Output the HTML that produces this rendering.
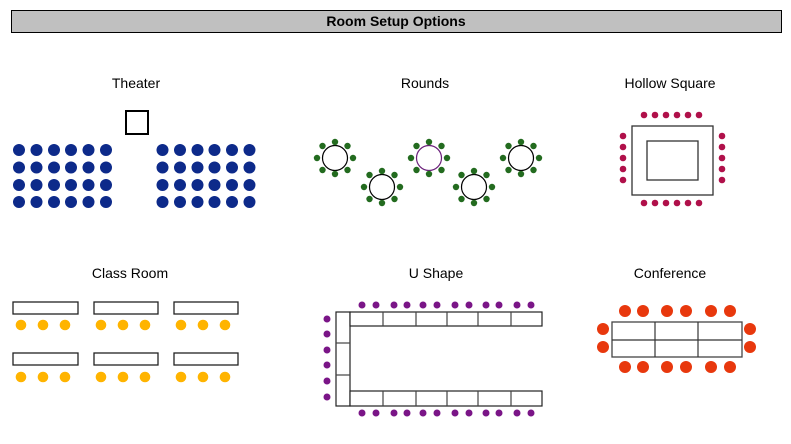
<!DOCTYPE html>
<html><head><meta charset="utf-8"><style>
body{margin:0;background:#fff;width:791px;height:439px;overflow:hidden}
text{font-family:"Liberation Sans",sans-serif;font-size:14px;fill:#000}
</style></head><body>
<svg width="791" height="439" xmlns="http://www.w3.org/2000/svg">
<rect x="11.5" y="10.5" width="770" height="22" fill="#c0c0c0" stroke="#000"/>
<text x="396" y="26" text-anchor="middle" font-weight="bold" style="font-size:14px">Room Setup Options</text>
<text x="136" y="88" text-anchor="middle">Theater</text>
<text x="425" y="88" text-anchor="middle">Rounds</text>
<text x="670" y="88" text-anchor="middle">Hollow Square</text>
<text x="130" y="278" text-anchor="middle">Class Room</text>
<text x="436" y="278" text-anchor="middle">U Shape</text>
<text x="670" y="278" text-anchor="middle">Conference</text>

<!-- Theater -->
<rect x="126" y="111" width="22" height="23" fill="#fff" stroke="#000" stroke-width="2"/>
<g fill="#0d2a8a">
<g id="trow"><circle cx="19" cy="150" r="6"/><circle cx="36.5" cy="150" r="6"/><circle cx="54" cy="150" r="6"/><circle cx="71" cy="150" r="6"/><circle cx="88.5" cy="150" r="6"/><circle cx="106" cy="150" r="6"/></g>
<use href="#trow" y="17.5"/><use href="#trow" y="35"/><use href="#trow" y="52"/>
<use href="#trow" x="143.5"/><use href="#trow" x="143.5" y="17.5"/><use href="#trow" x="143.5" y="35"/><use href="#trow" x="143.5" y="52"/>
</g>

<!-- Rounds -->
<defs>
<g id="chairs" fill="#236b1f"><circle cx="0" cy="-16" r="3.2"/><circle cx="0" cy="16" r="3.2"/><circle cx="-18" cy="0" r="3.2"/><circle cx="18" cy="0" r="3.2"/><circle cx="-12.5" cy="-12" r="3.2"/><circle cx="12.5" cy="-12" r="3.2"/><circle cx="-12.5" cy="12" r="3.2"/><circle cx="12.5" cy="12" r="3.2"/></g>
</defs>
<g fill="#fff" stroke="#000" stroke-width="1.2">
<circle cx="335" cy="158" r="12.5"/><circle cx="382" cy="187" r="12.5"/><circle cx="429" cy="158" r="12.5" stroke="#6a1f7a"/><circle cx="474" cy="187" r="12.5"/><circle cx="521" cy="158" r="12.5"/>
</g>
<use href="#chairs" x="335" y="158"/><use href="#chairs" x="382" y="187"/><use href="#chairs" x="429" y="158"/><use href="#chairs" x="474" y="187"/><use href="#chairs" x="521" y="158"/>

<!-- Hollow square -->
<rect x="632" y="126" width="81" height="69" fill="#fff" stroke="#333" stroke-width="1.3"/>
<rect x="647" y="141" width="51" height="39" fill="#fff" stroke="#333" stroke-width="1.3"/>
<g fill="#b0104a">
<g id="hrow"><circle cx="644" cy="115" r="3.3"/><circle cx="655" cy="115" r="3.3"/><circle cx="666" cy="115" r="3.3"/><circle cx="677" cy="115" r="3.3"/><circle cx="688" cy="115" r="3.3"/><circle cx="699" cy="115" r="3.3"/></g>
<use href="#hrow" y="88"/>
<g id="hcol"><circle cx="623" cy="136" r="3.3"/><circle cx="623" cy="147" r="3.3"/><circle cx="623" cy="158" r="3.3"/><circle cx="623" cy="169" r="3.3"/><circle cx="623" cy="180" r="3.3"/></g>
<use href="#hcol" x="99"/>
</g>

<!-- Class room -->
<g fill="#fff" stroke="#222" stroke-width="1.3">
<rect x="13" y="302" width="65" height="12"/><rect x="94" y="302" width="64" height="12"/><rect x="174" y="302" width="64" height="12"/>
<rect x="13" y="353" width="65" height="12"/><rect x="94" y="353" width="64" height="12"/><rect x="174" y="353" width="64" height="12"/>
</g>
<g fill="#ffb400">
<g id="crow"><circle cx="21" cy="325" r="5.3"/><circle cx="43" cy="325" r="5.3"/><circle cx="65" cy="325" r="5.3"/><circle cx="101" cy="325" r="5.3"/><circle cx="123" cy="325" r="5.3"/><circle cx="145" cy="325" r="5.3"/><circle cx="181" cy="325" r="5.3"/><circle cx="203" cy="325" r="5.3"/><circle cx="225" cy="325" r="5.3"/></g>
<use href="#crow" y="52"/>
</g>

<!-- U shape -->
<g fill="#fff" stroke="#222" stroke-width="1.2">
<rect x="336" y="312" width="14" height="94"/>
<rect x="350" y="312" width="192" height="14"/>
<rect x="350" y="391" width="192" height="15"/>
</g>
<g stroke="#444" stroke-width="1.2">
<line x1="336" y1="343" x2="350" y2="343"/><line x1="336" y1="375" x2="350" y2="375"/>
<line x1="383" y1="312" x2="383" y2="326"/><line x1="416" y1="312" x2="416" y2="326"/><line x1="447" y1="312" x2="447" y2="326"/><line x1="478" y1="312" x2="478" y2="326"/><line x1="511" y1="312" x2="511" y2="326"/>
<line x1="383" y1="391" x2="383" y2="406"/><line x1="416" y1="391" x2="416" y2="406"/><line x1="447" y1="391" x2="447" y2="406"/><line x1="478" y1="391" x2="478" y2="406"/><line x1="511" y1="391" x2="511" y2="406"/>
</g>
<g fill="#7a1587">
<g id="urow"><circle cx="362" cy="305" r="3.5"/><circle cx="376" cy="305" r="3.5"/><circle cx="394" cy="305" r="3.5"/><circle cx="407" cy="305" r="3.5"/><circle cx="423" cy="305" r="3.5"/><circle cx="437" cy="305" r="3.5"/><circle cx="455" cy="305" r="3.5"/><circle cx="469" cy="305" r="3.5"/><circle cx="486" cy="305" r="3.5"/><circle cx="499" cy="305" r="3.5"/><circle cx="517" cy="305" r="3.5"/><circle cx="531" cy="305" r="3.5"/></g>
<use href="#urow" y="108"/>
<circle cx="327" cy="319" r="3.5"/><circle cx="327" cy="334" r="3.5"/><circle cx="327" cy="350" r="3.5"/><circle cx="327" cy="365" r="3.5"/><circle cx="327" cy="381" r="3.5"/><circle cx="327" cy="397" r="3.5"/>
</g>

<!-- Conference -->
<rect x="612" y="322" width="130" height="35" fill="#fff" stroke="#444" stroke-width="1.3"/>
<g stroke="#333" stroke-width="1.2">
<line x1="612" y1="340" x2="742" y2="340"/><line x1="655" y1="322" x2="655" y2="357"/><line x1="698" y1="322" x2="698" y2="357"/>
</g>
<g fill="#e8380d">
<g id="frow"><circle cx="625" cy="311" r="6"/><circle cx="643" cy="311" r="6"/><circle cx="667" cy="311" r="6"/><circle cx="686" cy="311" r="6"/><circle cx="711" cy="311" r="6"/><circle cx="730" cy="311" r="6"/></g>
<use href="#frow" y="56"/>
<circle cx="603" cy="329" r="6"/><circle cx="603" cy="347" r="6"/><circle cx="750" cy="329" r="6"/><circle cx="750" cy="347" r="6"/>
</g>
</svg>
</body></html>
